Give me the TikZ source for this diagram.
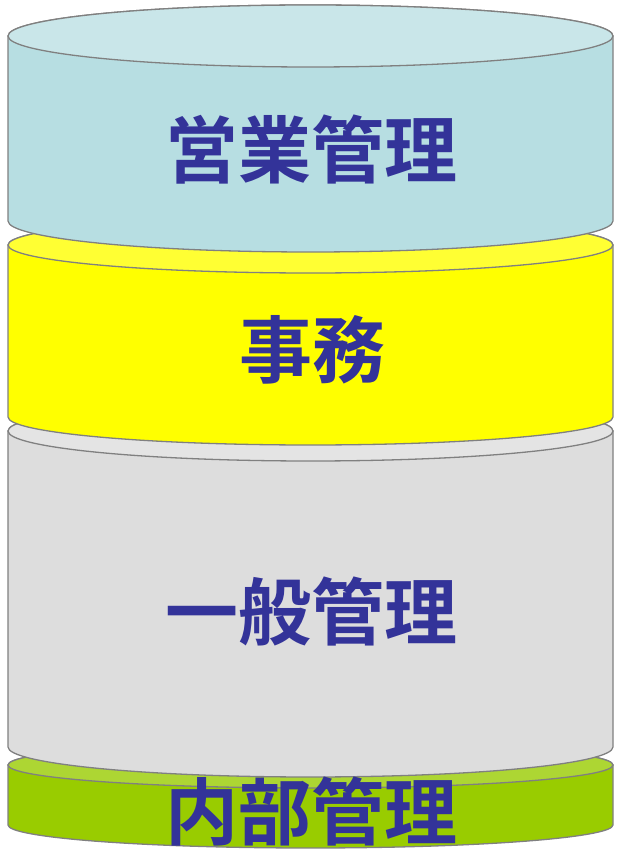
\documentclass[tikz,border=0pt]{standalone}
\usepackage{fontspec}
\newfontfamily\cjk{Noto Sans CJK JP}[BoldFont={Noto Sans CJK JP Bold}]
\definecolor{txt}{HTML}{333399}
\definecolor{edge}{HTML}{808080}
\definecolor{blueBody}{HTML}{B7DEE2}
\definecolor{blueTop}{HTML}{C9E6E9}
\definecolor{yelBody}{HTML}{FFFF00}
\definecolor{yelTop}{HTML}{FFFF33}
\definecolor{grayBody}{HTML}{DDDDDD}
\definecolor{grayTop}{HTML}{E4E4E4}
\definecolor{grnBody}{HTML}{99CC00}
\definecolor{grnTop}{HTML}{ADD633}
\newcommand\mycyl[5]{%
  % #1 top centre y, #2 bottom centre y, #3 y radius, #4 body colour, #5 top colour
  \draw[cylline,fill=#4] (8,#1) -- (8,#2)
    arc[start angle=180,end angle=360,x radius=302.5,y radius=#3]
    -- (613,#1)
    arc[start angle=0,end angle=180,x radius=302.5,y radius=#3] -- cycle;
  \draw[cylline,fill=#5] (310.5,#1) ellipse[x radius=302.5,y radius=#3];
}
\tikzset{
  cylline/.style={draw=edge,line width=1.3pt},
  label/.style={text=txt,font=\cjk\bfseries\fontsize{73}{73}\selectfont,inner sep=0pt}
}
\begin{document}
\begin{tikzpicture}[x=1pt,y=1pt]
\useasboundingbox (0,0) rectangle (622,849);
\mycyl{84}{24}{23}{grnBody}{grnTop}
\mycyl{418}{102}{30}{grayBody}{grayTop}
\mycyl{604}{432}{28}{yelBody}{yelTop}
\mycyl{813}{628}{31}{blueBody}{blueTop}
\node[label] (eigyo) at (311,699) {営業管理};
\node[label] (jimu) at (312,499) {事務};
\node[label] (ippan) at (311,237) {一般管理};
\node[label] (naibu) at (311,37) {内部管理};
\end{tikzpicture}
\end{document}
